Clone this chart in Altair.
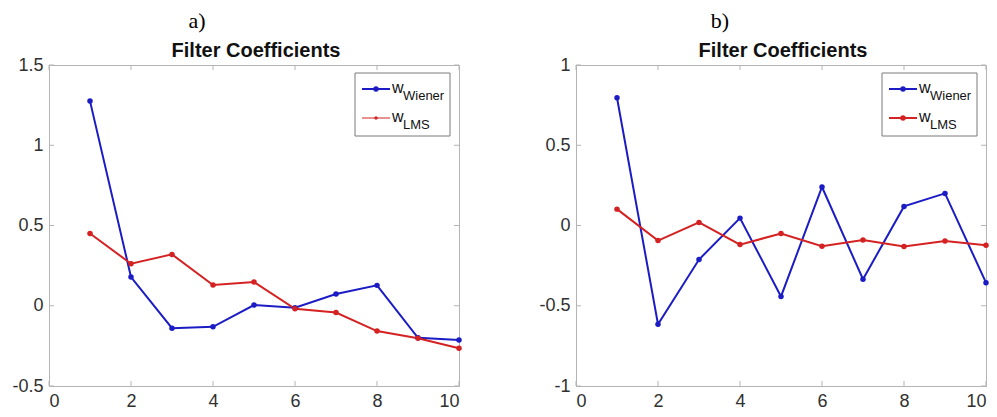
import altair as alt
import pandas as pd

# ---- data ----
n_idx = [1, 2, 3, 4, 5, 6, 7, 8, 9, 10]

a_wiener = [1.275, 0.179, -0.140, -0.131, 0.004, -0.012, 0.073, 0.127, -0.200, -0.214]
a_lms = [0.450, 0.262, 0.320, 0.129, 0.148, -0.019, -0.042, -0.158, -0.202, -0.265]

b_wiener = [0.796, -0.615, -0.212, 0.046, -0.442, 0.240, -0.335, 0.119, 0.200, -0.356]
b_lms = [0.102, -0.094, 0.019, -0.119, -0.050, -0.129, -0.090, -0.131, -0.096, -0.123]

x_ticks = [0, 2, 4, 6, 8, 10]
a_y_ticks = [-0.5, 0, 0.5, 1, 1.5]
b_y_ticks = [-1, -0.5, 0, 0.5, 1]

series_names = ["Wiener", "LMS"]
series_colors = ["#1c1cc4", "#d42222"]

W, H = 410, 321
AX = "#b4b4b4"
TXT = "#303030"


def panel(wiener, lms, y_dom, y_ticks, letter, letter_x, lms_legend_dot):
    df = pd.DataFrame({
        "n": n_idx * 2,
        "w": wiener + lms,
        "s": ["Wiener"] * len(n_idx) + ["LMS"] * len(n_idx),
    })
    xs = alt.Scale(domain=[0, 10], nice=False)
    ys = alt.Scale(domain=y_dom, nice=False)
    color = alt.Color("s:N", scale=alt.Scale(domain=series_names, range=series_colors), legend=None)
    axis_kw = dict(title=None, grid=False, ticks=False, domainColor=AX, labelFontSize=18,
                   labelColor=TXT, labelPadding=6, labelFont="Liberation Sans",
                   labelExpr="datum.value + ''")

    base = alt.Chart(df).encode(
        x=alt.X("n:Q", scale=xs, axis=alt.Axis(values=x_ticks, **axis_kw)),
        y=alt.Y("w:Q", scale=ys, axis=alt.Axis(values=y_ticks, **axis_kw)),
        color=color,
        order=alt.Order("n:Q"),
    )
    lines = base.mark_line(strokeWidth=2)
    pts = base.mark_circle(size=30, opacity=1)

    # inward ticks (MATLAB style box)
    xt = pd.DataFrame({"t": x_ticks})
    yt = pd.DataFrame({"t": y_ticks})
    tk = dict(color=AX, strokeWidth=1)
    xtop = alt.Chart(xt).mark_rule(**tk).encode(x=alt.X("t:Q", scale=xs), y=alt.value(0), y2=alt.value(5))
    xbot = alt.Chart(xt).mark_rule(**tk).encode(x=alt.X("t:Q", scale=xs), y=alt.value(H), y2=alt.value(H - 5))
    yl = alt.Chart(yt).mark_rule(**tk).encode(y=alt.Y("t:Q", scale=ys), x=alt.value(0), x2=alt.value(5))
    yr = alt.Chart(yt).mark_rule(**tk).encode(y=alt.Y("t:Q", scale=ys), x=alt.value(W), x2=alt.value(W - 5))

    # legend box
    one = pd.DataFrame({"k": [0]})
    box = alt.Chart(one).mark_rect(fill="white", stroke="#7a7a7a", strokeWidth=1).encode(
        x=alt.value(306), x2=alt.value(401), y=alt.value(8), y2=alt.value(71))
    leg = [box]
    rows = [(24, series_colors[0], "Wiener", True), (53, series_colors[1], "LMS", lms_legend_dot)]
    for ry, col, name, dot in rows:
        leg.append(alt.Chart(one).mark_rule(color=col, strokeWidth=2 if dot else 1).encode(
            x=alt.value(313), x2=alt.value(341), y=alt.value(ry)))
        if dot:
            leg.append(alt.Chart(one).mark_circle(color=col, size=30, opacity=1).encode(
                x=alt.value(327), y=alt.value(ry)))
        else:
            leg.append(alt.Chart(one).mark_point(color=col, shape="cross", size=14, filled=True, opacity=1).encode(
                x=alt.value(327), y=alt.value(ry)))
        leg.append(alt.Chart(one).mark_text(text="w", fontSize=16, font="Liberation Sans", color="#111111",
                                            align="left", baseline="alphabetic").encode(
            x=alt.value(343), y=alt.value(ry + 4)))
        leg.append(alt.Chart(one).mark_text(text=name, fontSize=13, font="Liberation Sans", color="#111111",
                                            align="left", baseline="alphabetic").encode(
            x=alt.value(354), y=alt.value(ry + 11)))

    lab = alt.Chart(one).mark_text(text=letter, fontSize=22, font="Liberation Serif", color="#000000",
                                   align="center", baseline="alphabetic").encode(
        x=alt.value(letter_x), y=alt.value(-37))
    ttl = alt.Chart(one).mark_text(text="Filter Coefficients", fontSize=20, font="Liberation Sans",
                                   fontWeight="bold", color="#111111",
                                   align="center", baseline="alphabetic").encode(
        x=alt.value(W / 2 + 2), y=alt.value(-8))

    return alt.layer(lines, pts, xtop, xbot, yl, yr, *leg, lab, ttl).properties(width=W, height=H)


pa = panel(a_wiener, a_lms, [-0.5, 1.5], a_y_ticks, "a)", 148, False)
pb = panel(b_wiener, b_lms, [-1, 1], b_y_ticks, "b)", 144, True)

chart = alt.hconcat(pa, pb, spacing=117, bounds="flush").configure_view(
    stroke=AX, strokeWidth=1
).properties(
    padding={"left": 11, "top": 9, "right": 0, "bottom": 0},
    background="white",
)

chart.save("out.html", embed_options={"renderer": "svg", "actions": False})
